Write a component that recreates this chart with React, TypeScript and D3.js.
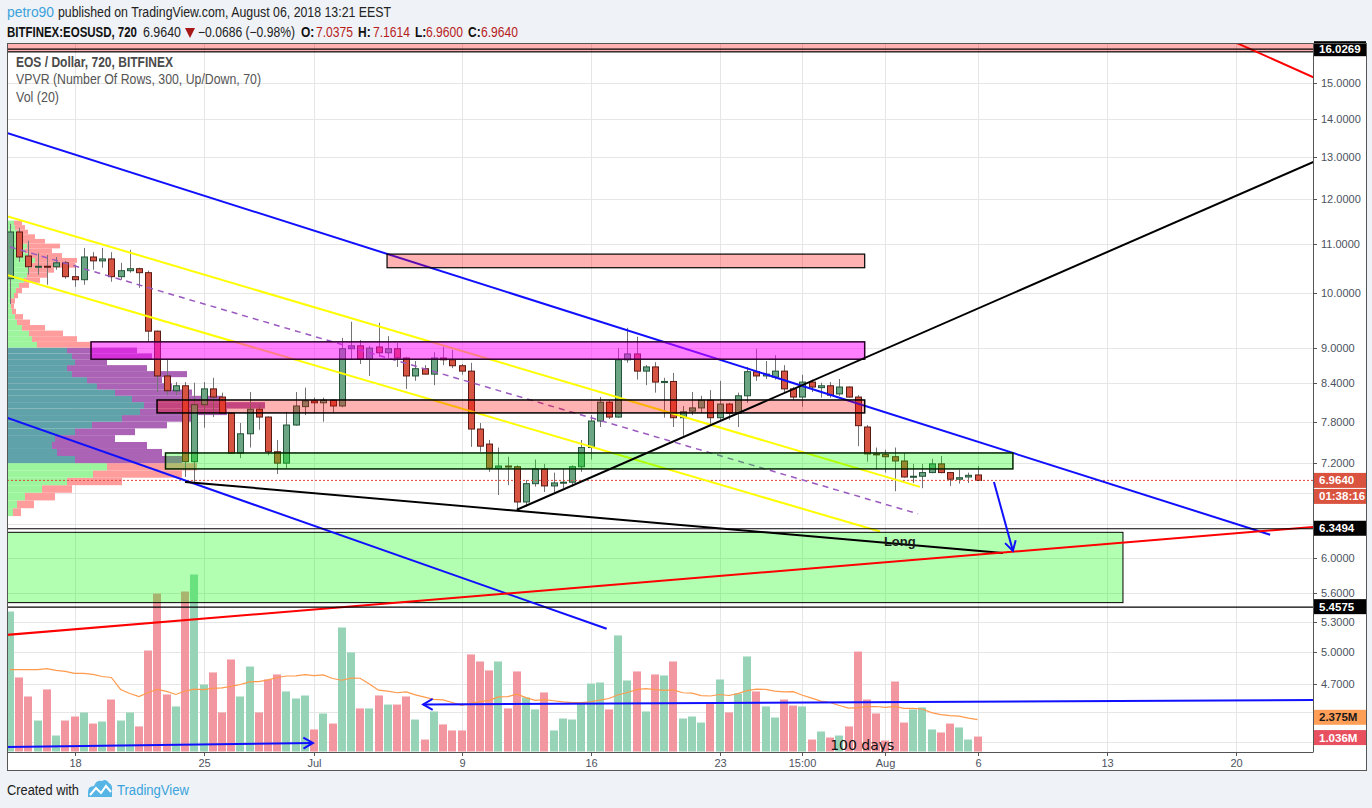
import React from "react";
import * as d3 from "d3";

// ---------------- DATA ----------------
const candleStart = "2018-06-14T12:00:00Z"; // first visible 720-minute candle
const candleHours = 12;

const opens = [10.28, 11.25, 10.74, 10.51, 10.53, 10.52, 10.60, 10.32, 10.26, 10.72,
  10.64, 10.68, 10.32, 10.44, 10.48, 10.40, 9.29, 8.52, 8.28, 8.36,
  7.22, 8.06, 8.31, 8.18, 7.93, 7.34, 7.62, 7.99, 7.87, 7.36,
  7.20, 7.75, 8.03, 8.12, 8.09, 8.13, 8.04, 8.98, 9.03, 8.80,
  9.01, 8.91, 8.98, 8.82, 8.52, 8.64, 8.55, 8.82, 8.79, 8.69,
  8.60, 7.69, 7.47, 7.13, 7.16, 7.15, 6.68, 6.92, 7.12, 6.89,
  6.93, 6.94, 7.15, 7.42, 7.81, 8.10, 7.87, 8.79, 8.89, 8.60,
  8.67, 8.42, 8.43, 7.86, 7.96, 8.01, 8.13, 7.86, 8.07, 7.93,
  8.20, 8.59, 8.52, 8.50, 8.60, 8.31, 8.18, 8.42, 8.33, 8.36,
  8.23, 8.34, 8.18, 7.72, 7.33, 7.32, 7.29, 7.23, 7.01, 7.02,
  7.07, 7.19, 7.07, 6.98, 7.01, 7.0375];
const highs = [11.43, 11.34, 11.06, 10.80, 10.76, 10.72, 10.64, 10.56, 10.91, 10.82,
  10.91, 10.82, 10.60, 10.87, 10.50, 10.44, 9.30, 8.79, 8.42, 8.42,
  8.41, 8.42, 8.49, 8.25, 7.94, 7.78, 8.26, 8.06, 7.88, 7.53,
  7.95, 8.26, 8.33, 8.17, 8.17, 8.14, 9.17, 9.46, 9.13, 9.03,
  9.44, 9.20, 9.08, 8.84, 8.77, 8.70, 8.92, 9.01, 8.96, 8.72,
  8.74, 7.78, 7.53, 7.42, 7.29, 7.17, 6.97, 7.25, 7.19, 7.07,
  7.12, 7.17, 7.53, 7.90, 8.18, 8.13, 8.99, 9.35, 9.19, 8.70,
  8.75, 8.49, 8.57, 8.04, 8.26, 8.20, 8.29, 8.44, 8.09, 8.25,
  8.67, 8.98, 8.77, 8.87, 8.70, 8.34, 8.54, 8.46, 8.41, 8.42,
  8.47, 8.35, 8.21, 7.75, 7.42, 7.39, 7.42, 7.34, 7.19, 7.19,
  7.26, 7.30, 7.08, 7.11, 7.07, 7.1614];
const lows = [9.79, 10.62, 10.36, 10.36, 10.16, 10.46, 10.28, 10.12, 10.16, 10.46,
  10.50, 10.22, 10.26, 10.40, 10.10, 9.10, 8.26, 8.21, 8.21, 7.01,
  6.94, 7.71, 7.87, 7.92, 7.33, 7.27, 7.42, 7.68, 7.31, 7.05,
  7.13, 7.74, 7.90, 7.93, 7.80, 7.93, 8.02, 8.79, 8.72, 8.52,
  8.84, 8.82, 8.67, 8.31, 8.44, 8.54, 8.37, 8.70, 8.65, 8.54,
  7.43, 7.36, 7.08, 6.77, 6.90, 6.58, 6.62, 6.88, 6.81, 6.81,
  6.86, 6.88, 7.08, 7.25, 7.72, 7.84, 7.86, 8.74, 8.46, 8.37,
  8.25, 7.86, 7.72, 7.59, 7.90, 7.93, 7.74, 7.80, 7.83, 7.72,
  8.09, 8.44, 8.47, 8.46, 8.25, 8.13, 8.03, 8.26, 8.17, 8.17,
  8.20, 8.17, 7.44, 7.22, 7.11, 7.07, 6.82, 7.00, 6.93, 6.86,
  7.06, 7.06, 6.89, 6.92, 6.93, 6.96];
const closes = [11.25, 10.72, 10.52, 10.53, 10.52, 10.60, 10.32, 10.26, 10.72, 10.64,
  10.68, 10.32, 10.44, 10.48, 10.40, 9.29, 8.52, 8.28, 8.36, 7.22,
  8.06, 8.31, 8.18, 7.93, 7.34, 7.62, 7.99, 7.87, 7.36, 7.20,
  7.75, 8.04, 8.12, 8.09, 8.13, 8.04, 8.98, 9.03, 8.80, 8.99,
  8.91, 8.98, 8.82, 8.52, 8.64, 8.55, 8.82, 8.79, 8.69, 8.60,
  7.69, 7.44, 7.13, 7.16, 7.15, 6.68, 6.92, 7.12, 6.89, 6.93,
  6.94, 7.15, 7.42, 7.81, 8.10, 7.87, 8.79, 8.89, 8.60, 8.67,
  8.42, 8.43, 7.86, 7.95, 8.01, 8.13, 7.86, 8.07, 7.93, 8.20,
  8.59, 8.52, 8.55, 8.60, 8.31, 8.18, 8.42, 8.34, 8.36, 8.21,
  8.34, 8.18, 7.74, 7.33, 7.32, 7.29, 7.23, 7.01, 7.02, 7.07,
  7.19, 7.07, 6.98, 7.00, 7.0326, 6.964];
// volume in millions
const volumes = [9.72, 5.14, 3.82, 2.15, 4.31, 1.11, 2.15, 2.43, 2.71, 1.94,
  2.08, 3.61, 2.15, 2.71, 1.74, 7.01, 10.97, 3.96, 3.13, 11.11,
  12.29, 4.65, 5.49, 2.71, 6.39, 3.82, 5.90, 2.71, 5.00, 5.35,
  4.17, 3.68, 3.89, 1.53, 2.64, 1.94, 8.61, 6.88, 2.99, 2.99,
  3.89, 3.26, 3.26, 3.82, 2.22, 0.83, 2.78, 1.88, 1.46, 1.46,
  6.74, 6.25, 5.63, 6.25, 2.99, 5.56, 3.75, 2.92, 4.10, 1.46,
  2.29, 2.22, 3.40, 4.72, 4.79, 2.92, 8.06, 4.93, 5.56, 2.78,
  5.35, 5.28, 6.25, 2.29, 2.43, 2.01, 3.33, 5.00, 2.71, 4.03,
  6.60, 4.17, 3.13, 2.36, 3.61, 3.19, 3.13, 0.83, 1.39, 0.97,
  1.11, 1.74, 6.94, 3.61, 2.64, 0.76, 4.86, 2.01, 2.92, 3.06,
  1.53, 1.32, 1.94, 1.67, 0.83, 1.036];
// Vol(20) moving average read for the first 19 candles (their window reaches before the visible range)
const volMaHead = [5.69, 5.69, 5.69, 5.69, 5.76, 5.63, 5.56, 5.42, 5.42, 5.35,
  5.21, 5.14, 4.31, 4.03, 3.82, 4.10, 4.31, 4.17, 3.96];
const volMaLast = 2.375;
const countdown = "01:38:16";

// VPVR rows (price low of each 0.1 row), up / down volume (k units)
const vpRowLow = [6.5, 6.6, 6.7, 6.8, 6.9, 7.0, 7.1, 7.2, 7.3, 7.4,
  7.5, 7.6, 7.7, 7.8, 7.9, 8.0, 8.1, 8.2, 8.3, 8.4,
  8.5, 8.6, 8.7, 8.8, 8.9, 9.0, 9.1, 9.2, 9.3, 9.4,
  9.5, 9.6, 9.7, 9.8, 9.9, 10.0, 10.1, 10.2, 10.3, 10.4,
  10.5, 10.6, 10.7, 10.8, 10.9, 11.0, 11.1, 11.2, 11.3, 11.4];
const vpUp = [6, 10, 18, 35, 60, 86, 100, 68, 50, 45, 48, 68, 85, 115, 133, 137, 125, 108, 90, 80,
  65, 60, 68, 65, 60, 30, 25, 22, 15, 10, 8, 5, 4, 4, 7, 9, 12, 17, 20, 22,
  25, 28, 22, 18, 20, 15, 11, 10, 8, 7];
const vpDown = [8, 17, 30, 30, 55, 89, 90, 107, 105, 95, 60, 60, 75, 70, 87, 121, 90, 77, 75, 75,
  115, 80, 32, 80, 70, 55, 45, 34, 23, 13, 8, 4, 3, 4, 4, 6, 10, 16, 20, 25,
  43, 42, 33, 27, 33, 23, 17, 11, 10, 8];
const vpRowStep = 0.1;
const valueAreaLow = 7.2;
const valueAreaHigh = 9.0;

// axes
const priceTicks = [15, 14, 13, 12, 11, 10, 9, 8.4, 7.8, 7.2, 6.8, 6.4, 6.0, 5.6, 5.3, 5.0, 4.7, 4.45, 4.2];
const timeTicks = ["2018-06-18T00:00Z", "2018-06-25T00:00Z", "2018-07-01T00:00Z", "2018-07-09T00:00Z",
  "2018-07-16T00:00Z", "2018-07-23T00:00Z", "2018-07-27T12:00Z", "2018-08-01T00:00Z",
  "2018-08-06T00:00Z", "2018-08-13T00:00Z", "2018-08-20T00:00Z"];
const timeTickLabels = ["18", "25", "Jul", "9", "16", "23", "15:00", "Aug", "6", "13", "20"];

// drawings: [time, price] end points
const blueUpper = [["2018-06-14T08:00Z", 13.62], ["2018-08-21T21:00Z", 6.27]];
const blueLower = [["2018-06-14T08:00Z", 7.86], ["2018-07-16T21:00Z", 5.23]];
const blueArrowLeft = [["2018-08-24T05:00Z", 4.558], ["2018-07-06T22:00Z", 4.519]];
const blueArrowRight = [["2018-06-14T08:00Z", 4.162], ["2018-06-30T22:30Z", 4.195]];
const blueArrowDown = [["2018-08-06T21:20Z", 6.943], ["2018-08-07T22:00Z", 6.078]];
const yellowUpper = [["2018-06-14T08:00Z", 11.60], ["2018-08-02T21:00Z", 6.877]];
const yellowLower = [["2018-06-14T08:00Z", 10.355], ["2018-07-31T17:00Z", 6.309]];
const purpleMid = [["2018-06-14T12:00Z", 10.93], ["2018-08-02T18:30Z", 6.528]];
const blackLower = [["2018-06-24T00:00Z", 6.943], ["2018-08-07T09:00Z", 6.054]];
const blackRising = [["2018-07-12T00:00Z", 6.58], ["2018-08-25T03:00Z", 13.06]];
const redSupport = [["2018-06-14T08:00Z", 5.168], ["2018-08-25T03:00Z", 6.383]];
const redTop = [["2018-08-19T03:40Z", 16.44], ["2018-08-25T03:00Z", 14.95]];

// boxes: [startTime, endTime, top price, bottom price]
const zoneSupply = ["2018-07-04T23:00Z", "2018-07-30T21:00Z", 10.78, 10.50];
const zoneMagenta = ["2018-06-18T21:30Z", "2018-07-30T21:00Z", 9.10, 8.80];
const zonePink = ["2018-06-22T11:30Z", "2018-07-30T21:00Z", 8.134, 7.933];
const zoneGreen = ["2018-06-22T22:30Z", "2018-08-07T22:00Z", 7.343, 7.12];
const zoneTarget = ["2018-06-12T00:00Z", "2018-08-13T21:20Z", 6.30, 5.50];
const zoneTop = ["2018-06-12T00:00Z", "2018-08-30T00:00Z", 17.5, 15.93];

const hLevels = [16.0269, 6.3494, 5.4575];
const notes = [["Long", "2018-07-31T22:00Z", 6.137], ["100 days", "2018-07-29T00:00Z", 4.139]];

// ---------------- CHART ----------------
const W = 1372, H = 808;
const PL = 7, PR = 1313, PT = 43, PB = 752, AB = 771, AR = 1367;
const SANS = "'Liberation Sans', Arial, sans-serif";

function arrowPath(x1: number, y1: number, x2: number, y2: number, len = 11, spread = Math.PI / 6) {
  const a = Math.atan2(y2 - y1, x2 - x1);
  const ax = x2 - len * Math.cos(a - spread), ay = y2 - len * Math.sin(a - spread);
  const bx = x2 - len * Math.cos(a + spread), by = y2 - len * Math.sin(a + spread);
  return `M${ax},${ay}L${x2},${y2}L${bx},${by}`;
}

// condensed-looking text: small font stretched vertically
function TallText(props: any) {
  const { x, y, size = 12, k = 1.17, w, children, ...rest } = props;
  return (
    <text transform={`translate(${x},${y}) scale(1,${k})`} x={0} y={0} fontFamily={SANS} fontSize={size}
      textLength={w} lengthAdjust={w ? "spacingAndGlyphs" : undefined} {...rest}>{children}</text>
  );
}

export default function App() {
  const x = d3.scaleUtc()
    .domain([new Date("2018-06-18T00:00:00Z"), new Date("2018-08-20T00:00:00Z")])
    .range([74.5, 1235.6]);
  const y = d3.scaleLog().domain([15, 5]).range([83, 652]);
  const yVol = d3.scaleLinear().domain([0, 10]).range([751.5, 607.5]);
  const xVp = d3.scaleLinear().domain([0, 100]).range([0, 100]);

  const t0 = new Date(candleStart).getTime();
  const candles = opens.map((o, i) => ({
    t: new Date(t0 + i * candleHours * 3600e3),
    o, h: highs[i], l: lows[i], c: closes[i], v: volumes[i],
  }));
  const volMa = volumes.map((v, i) => (i < 19 ? volMaHead[i] : (d3.mean(volumes.slice(i - 19, i + 1)) as number)));
  const maLine = d3.line<number>()
    .x((_, i) => x(candles[i].t))
    .y((d) => yVol(d));

  const P = (pt: any) => [x(new Date(pt[0])), y(pt[1])];
  const seg = (pts: any) => {
    const [a, b] = [P(pts[0]), P(pts[1])];
    return { x1: a[0], y1: a[1], x2: b[0], y2: b[1] };
  };
  const box = (z: any) => {
    const x0 = x(new Date(z[0])), x1 = x(new Date(z[1]));
    const y0 = y(z[2]), y1 = y(z[3]);
    return { x: x0, y: y0, width: x1 - x0, height: y1 - y0 };
  };

  const last = candles[candles.length - 1];
  const prev = candles[candles.length - 2];
  const f4 = d3.format(".4f");
  const change = last.c - prev.c;
  const pct = (change / prev.c) * 100;

  const underLines = [
    { d: yellowUpper, c: "#ffff00", w: 2 },
    { d: yellowLower, c: "#ffff00", w: 2 },
    { d: blueUpper, c: "#1010ff", w: 2 },
  ];
  const overLines = [
    { d: blueLower, c: "#1010ff", w: 2 },
    { d: blackLower, c: "#000000", w: 2 },
    { d: blackRising, c: "#000000", w: 2 },
    { d: redSupport, c: "#ff0000", w: 2 },
    { d: redTop, c: "#ff0000", w: 2 },
  ];
  const arrows = [blueArrowLeft, blueArrowRight, blueArrowDown];

  const badges = [
    { yc: y(hLevels[0]), text: f4(hLevels[0]), bg: "#000", fg: "#fff" },
    { yc: y(last.c), text: f4(last.c), bg: "#d9533f", fg: "#fff" },
    { yc: y(last.c) + 16, text: countdown, bg: "#d9533f", fg: "#fff" },
    { yc: y(hLevels[1]), text: f4(hLevels[1]), bg: "#000", fg: "#fff" },
    { yc: y(hLevels[2]), text: f4(hLevels[2]), bg: "#000", fg: "#fff" },
    { yc: yVol(volMaLast), text: d3.format(".3f")(volMaLast) + "M", bg: "#ff9e57", fg: "#1a1a1a" },
    { yc: yVol(last.v) + 1, text: d3.format(".3f")(last.v) + "M", bg: "#e8505f", fg: "#fff" },
  ];
  const hiddenByBadge = (yy: number) => badges.some((b) => Math.abs(b.yc - yy) < 11);

  return (
    <div style={{ position: "fixed", left: 0, top: 0, width: W, height: H, background: "#eff2f6" }}>
      <svg width={W} height={H} style={{ display: "block" }}>
        <defs>
          <clipPath id="pane"><rect x={PL} y={PT} width={PR - PL} height={PB - PT} /></clipPath>
        </defs>
        <rect x={0} y={0} width={W} height={H} fill="#eff2f6" />
        {/* header */}
        <TallText x={7} y={17} size={13} k={1.08} w={47} fill="#3aa3dc">petro90</TallText>
        <TallText x={58} y={17} w={333} fill="#222">published on TradingView.com, August 06, 2018 13:21 EEST</TallText>
        <TallText x={7} y={37} size={11.5} k={1.2} w={130} fontWeight="bold" fill="#111">BITFINEX:EOSUSD, 720</TallText>
        <TallText x={143} y={37} w={38} fill="#222">{f4(last.c)}</TallText>
        <path d="M185,28 L195,28 L190,38 Z" fill="#a81818" />
        <TallText x={198} y={37} w={97} fill="#222">{`${f4(change)} (${d3.format(".2f")(pct)}%)`}</TallText>
        {[
          ["O:", last.o, 301, 316],
          ["H:", last.h, 358, 373],
          ["L:", last.l, 415, 426],
          ["C:", last.c, 468, 481],
        ].map(([lab, v, lx, vx]: any) => (
          <g key={lab}>
            <TallText x={lx} y={37} fontWeight="bold" fill="#111">{lab}</TallText>
            <TallText x={vx} y={37} w={37} fill="#b71c1c">{f4(v)}</TallText>
          </g>
        ))}

        {/* frame background */}
        <rect x={PL} y={PT} width={AR - PL} height={AB - PT} fill="#ffffff" />

        {/* grid */}
        <g stroke="#e6e6e6" strokeWidth={1}>
          {priceTicks.map((p) => (
            <line key={"gy" + p} x1={PL} x2={PR} y1={Math.round(y(p)) + 0.5} y2={Math.round(y(p)) + 0.5} />
          ))}
          {timeTicks.map((t) => (
            <line key={"gx" + t} y1={PT} y2={PB} x1={Math.round(x(new Date(t))) + 0.5} x2={Math.round(x(new Date(t))) + 0.5} />
          ))}
        </g>

        <g clipPath="url(#pane)">
          {/* VPVR */}
          {vpRowLow.map((lo, i) => {
            const yTop = y(lo + vpRowStep), yBot = y(lo);
            const inVA = lo >= valueAreaLow - 1e-9 && lo + vpRowStep <= valueAreaHigh + 1e-9;
            const wu = xVp(vpUp[i]), wd = xVp(vpDown[i]);
            return (
              <g key={"vp" + i}>
                <rect x={PL} y={yTop} width={wu} height={yBot - yTop} fill={inVA ? "#5fa2a9" : "#9cf59c"} />
                <rect x={PL + wu} y={yTop} width={wd} height={yBot - yTop} fill={inVA ? "#ab63b5" : "#ff9d9d"} />
              </g>
            );
          })}

          {/* volume */}
          {candles.map((d, i) => {
            const cx = Math.round(x(d.t));
            const up = d.c >= d.o;
            return (
              <rect key={"v" + i} x={cx - 4} y={yVol(d.v)} width={8} height={yVol(0) - yVol(d.v)}
                fill={up ? "#97d4b7" : "#f2969f"} />
            );
          })}
          <path d={maLine(volMa) || ""} fill="none" stroke="#ff9a4d" strokeWidth={1.2} />

          {/* candles */}
          {candles.map((d, i) => {
            const cx = Math.round(x(d.t));
            const up = d.c >= d.o;
            const yt = y(Math.max(d.o, d.c)), yb = y(Math.min(d.o, d.c));
            return (
              <g key={"c" + i}>
                <line x1={cx + 0.5} x2={cx + 0.5} y1={y(d.h)} y2={y(d.l)} stroke="#737375" strokeWidth={1} />
                <rect x={cx - 2.5} y={yt} width={6} height={Math.max(1, yb - yt)}
                  fill={up ? "#6ba583" : "#d75442"} stroke={up ? "#225437" : "#5b1a13"} strokeWidth={1} />
              </g>
            );
          })}

          {/* last price line */}
          <line x1={PL} x2={PR} y1={y(last.c)} y2={y(last.c)} stroke="#e0463a" strokeWidth={1} strokeDasharray="2 2" />

          {/* purple dashed mid line */}
          <line {...seg(purpleMid)} stroke="#9b59c0" strokeWidth={1.5} strokeDasharray="6 5" />

          {underLines.map((l, i) => (
            <line key={"ul" + i} {...seg(l.d)} stroke={l.c} strokeWidth={l.w} />
          ))}

          {/* boxes */}
          <rect {...box(zoneTop)} fill="rgba(255,0,0,0.3)" stroke="#000" strokeWidth={1.2} />
          <rect {...box(zoneSupply)} fill="rgba(255,0,0,0.3)" stroke="#000" strokeWidth={1.2} />
          <rect {...box(zoneMagenta)} fill="rgba(255,0,255,0.5)" stroke="#2a002a" strokeWidth={1.5} />
          <rect {...box(zonePink)} fill="rgba(255,0,0,0.3)" stroke="#000" strokeWidth={1.5} />
          <rect {...box(zoneGreen)} fill="rgba(0,255,0,0.3)" stroke="#002200" strokeWidth={1.5} />
          <rect {...box(zoneTarget)} fill="rgba(0,255,0,0.3)" stroke="#000" strokeWidth={1} />

          {overLines.map((l, i) => (
            <line key={"ol" + i} {...seg(l.d)} stroke={l.c} strokeWidth={l.w} />
          ))}

          {/* horizontal levels */}
          {hLevels.map((p) => (
            <line key={"h" + p} x1={PL} x2={PR} y1={y(p) + 0.5} y2={y(p) + 0.5} stroke="#000" strokeWidth={1.2} />
          ))}

          {/* arrows */}
          {arrows.map((a, i) => {
            const s = seg(a);
            return (
              <g key={"a" + i} stroke="#1010ff" strokeWidth={2} fill="none">
                <line {...s} />
                <path d={arrowPath(s.x1, s.y1, s.x2, s.y2)} />
              </g>
            );
          })}

          {/* notes */}
          <text x={x(new Date(notes[0][1] as string))} y={y(notes[0][2] as number)} fontFamily={SANS}
            fontSize={13} fontWeight="bold" fill="#1a1a1a">{notes[0][0]}</text>
          <text x={x(new Date(notes[1][1] as string))} y={y(notes[1][2] as number)} fontFamily="'DejaVu Sans', sans-serif"
            fontSize={14} fill="#111">{notes[1][0]}</text>

          {/* legend */}
          <TallText x={16} y={67} w={157} fontWeight="bold" fill="#4a4a4a">EOS / Dollar, 720, BITFINEX</TallText>
          <TallText x={16} y={84} w={245} fill="#555">VPVR (Number Of Rows, 300, Up/Down, 70)</TallText>
          <TallText x={16} y={102} w={43} fill="#555">Vol (20)</TallText>
        </g>

        {/* price axis */}
        <g fontFamily={SANS} fontSize={11} fill="#4c525e">
          {priceTicks.map((p) => {
            const yy = y(p);
            if (yy > PB - 2) return null;
            return (
              <g key={"py" + p}>
                <line x1={PR} x2={PR + 4} y1={Math.round(yy) + 0.5} y2={Math.round(yy) + 0.5} stroke="#555" />
                {!hiddenByBadge(yy) && <text x={PR + 8} y={yy + 4}>{f4(p)}</text>}
              </g>
            );
          })}
        </g>
        {badges.map((b, i) => (
          <g key={"b" + i}>
            <rect x={PR + 1} y={b.yc - 7.5} width={AR - PR - 2} height={15} fill={b.bg} />
            <text x={PR + 6} y={b.yc + 4} fontFamily={SANS} fontSize={11.5} fontWeight="bold" fill={b.fg}>{b.text}</text>
          </g>
        ))}

        {/* time axis */}
        <g fontFamily={SANS} fontSize={11} fill="#4c525e" textAnchor="middle">
          {timeTicks.map((t, i) => {
            const xx = Math.round(x(new Date(t))) + 0.5;
            return (
              <g key={"tx" + t}>
                <line x1={xx} x2={xx} y1={PB} y2={PB + 4} stroke="#555" />
                <text x={xx} y={PB + 15}>{timeTickLabels[i]}</text>
              </g>
            );
          })}
        </g>

        {/* frame lines */}
        <g stroke="#555" strokeWidth={1} fill="none">
          <rect x={PL + 0.5} y={PT + 0.5} width={AR - PL - 1} height={AB - PT - 1} />
          <line x1={PR + 0.5} x2={PR + 0.5} y1={PT} y2={PB} />
          <line x1={PL} x2={PR + 0.5} y1={PB + 0.5} y2={PB + 0.5} />
        </g>

        {/* footer */}
        <TallText x={7} y={795} size={13} k={1.08} w={72} fill="#222">Created with</TallText>
        <g>
          <path d="M88,797 L88,792 Q88,786 94,786 Q96,780 102,781 Q106,778 109,783 Q113,785 112,791 L112,797 Z" fill="#57b5e6" />
          <path d="M90,795 L96,788 L101,793 L106,786 L111,792" stroke="#ffffff" strokeWidth={2} fill="none" />
        </g>
        <TallText x={117} y={795} size={13} k={1.08} w={72} fill="#3aa3dc">TradingView</TallText>
      </svg>
    </div>
  );
}
